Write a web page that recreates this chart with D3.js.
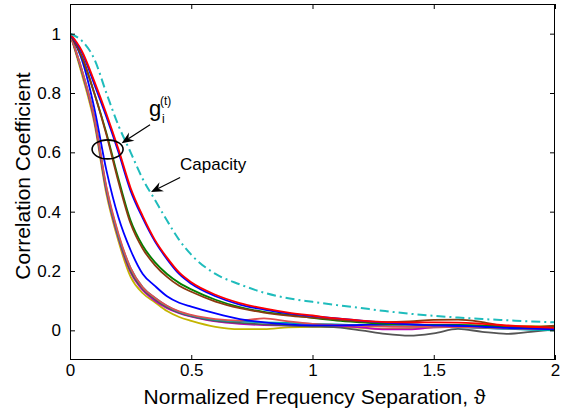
<!DOCTYPE html>
<html>
<head>
<meta charset="utf-8">
<script src="https://cdn.jsdelivr.net/npm/d3@7/dist/d3.min.js"></script>
<style>
  html, body { margin: 0; padding: 0; background: #fff; }
  svg { display: block; }
  text { font-family: "Liberation Sans", Arial, Helvetica, sans-serif; fill: #000; }
</style>
</head>
<body>
<svg id="chart" width="566" height="413"></svg>
<script>
// Normalized frequency separation samples
const theta = [0, 0.05, 0.1, 0.15, 0.2, 0.25, 0.3, 0.35, 0.4, 0.45, 0.5, 0.6, 0.7, 0.8, 0.9, 1.0, 1.1, 1.2, 1.3, 1.4, 1.5, 1.6, 1.7, 1.8, 1.9, 2.0];

// Correlation of the individual g_i^(t) gains
const gRed     = [1, 0.94, 0.84, 0.73, 0.61, 0.48, 0.385, 0.305, 0.245, 0.195, 0.162, 0.12, 0.092, 0.074, 0.06, 0.05, 0.04, 0.033, 0.028, 0.027, 0.027, 0.026, 0.022, 0.017, 0.012, 0.008];
const gBlue1   = [1, 0.935, 0.83, 0.72, 0.60, 0.47, 0.378, 0.30, 0.24, 0.19, 0.157, 0.115, 0.087, 0.07, 0.057, 0.048, 0.04, 0.033, 0.026, 0.02, 0.017, 0.016, 0.012, 0.008, 0.006, 0.004];
const gBrown   = [1, 0.92, 0.80, 0.66, 0.50, 0.36, 0.275, 0.22, 0.18, 0.15, 0.13, 0.097, 0.075, 0.06, 0.05, 0.043, 0.036, 0.03, 0.028, 0.03, 0.035, 0.036, 0.028, 0.014, 0.012, 0.016];
const gGreen   = [1, 0.92, 0.80, 0.665, 0.51, 0.37, 0.285, 0.23, 0.19, 0.16, 0.138, 0.103, 0.078, 0.062, 0.052, 0.042, 0.033, 0.027, 0.022, 0.02, 0.018, 0.018, 0.016, 0.013, 0.01, 0.012];
const gBlue2   = [1, 0.91, 0.75, 0.54, 0.38, 0.27, 0.19, 0.15, 0.115, 0.093, 0.08, 0.057, 0.038, 0.027, 0.02, 0.017, 0.017, 0.018, 0.02, 0.02, 0.017, 0.015, 0.015, 0.012, 0.008, 0.004];
const gPink    = [1, 0.875, 0.72, 0.485, 0.325, 0.21, 0.145, 0.11, 0.083, 0.064, 0.052, 0.038, 0.033, 0.04, 0.03, 0.022, 0.018, 0.015, 0.013, 0.012, 0.012, 0.011, 0.009, 0.007, 0.005, 0.004];
const gTeal    = [1, 0.875, 0.72, 0.48, 0.32, 0.21, 0.145, 0.11, 0.082, 0.062, 0.05, 0.035, 0.03, 0.027, 0.025, 0.022, 0.02, 0.017, 0.015, 0.013, 0.012, 0.01, 0.008, 0.005, 0.002, 0.0];
const gGray    = [1, 0.87, 0.715, 0.475, 0.315, 0.20, 0.14, 0.105, 0.078, 0.06, 0.048, 0.032, 0.025, 0.02, 0.016, 0.013, 0.01, 0.0, -0.012, -0.018, -0.01, 0.005, -0.005, -0.012, -0.005, 0.003];
const gMagenta = [1, 0.87, 0.71, 0.47, 0.31, 0.195, 0.135, 0.10, 0.075, 0.058, 0.046, 0.03, 0.022, 0.018, 0.017, 0.017, 0.015, 0.01, 0.003, 0.003, 0.01, 0.012, 0.008, 0.006, 0.008, 0.01];
const gOlive   = [1, 0.86, 0.70, 0.46, 0.30, 0.18, 0.125, 0.095, 0.065, 0.045, 0.032, 0.012, 0.004, 0.004, 0.01, 0.012, 0.012, 0.008, 0.005, 0.006, 0.01, 0.012, 0.01, 0.012, 0.014, 0.012];

// Correlation of the capacity
const capacity = [1, 0.975, 0.915, 0.80, 0.69, 0.60, 0.51, 0.44, 0.37, 0.305, 0.255, 0.19, 0.155, 0.127, 0.108, 0.096, 0.085, 0.075, 0.065, 0.056, 0.049, 0.043, 0.038, 0.034, 0.03, 0.027];

const xTicks = [0, 0.5, 1, 1.5, 2];
const yTicks = [0, 0.2, 0.4, 0.6, 0.8, 1];

// Curves in drawing order (bottom to top) with their colours
const curves = [
  { values: gOlive,   color: "#c4b400" },
  { values: gMagenta, color: "#c000c0" },
  { values: gGray,    color: "#555555" },
  { values: gTeal,    color: "#00a6a6" },
  { values: gPink,    color: "#e05050" },
  { values: gBlue2,   color: "#0000ff" },
  { values: gGreen,   color: "#008000" },
  { values: gBrown,   color: "#8b3a0f" },
  { values: gBlue1,   color: "#0000ff" },
  { values: gRed,     color: "#ff0000" }
];

const svg = d3.select("#chart");
const mLeft = 70, mRight = 555, mTop = 4, mBottom = 360;

const x = d3.scaleLinear().domain([0, 2]).range([mLeft, mRight]);
const y = d3.scaleLinear().domain([-0.1, 1.1]).range([mBottom, mTop]);

const line = d3.line()
  .x((d, i) => x(theta[i]))
  .y(d => y(d))
  .curve(d3.curveMonotoneX);

svg.append("defs").append("clipPath").attr("id", "clip")
  .append("rect").attr("x", mLeft).attr("y", mTop).attr("width", mRight - mLeft).attr("height", mBottom - mTop);

const lines = svg.append("g").attr("clip-path", "url(#clip)");
curves.forEach(c => {
  lines.append("path")
    .attr("d", line(c.values))
    .attr("fill", "none")
    .attr("stroke", c.color)
    .attr("stroke-width", 1.8)
    .attr("stroke-linejoin", "round")
    .attr("stroke-linecap", "round");
});

lines.append("path")
  .attr("d", line(capacity))
  .attr("fill", "none")
  .attr("stroke", "#1fbcbc")
  .attr("stroke-width", 2)
  .attr("stroke-dasharray", "9,4,2,4");

// Axes: ticks pointing inward on all four sides
const tickLen = 5;
const axB = svg.append("g").attr("transform", `translate(0,${mBottom})`)
  .call(d3.axisBottom(x).tickValues(xTicks).tickSizeInner(-tickLen).tickSizeOuter(0).tickPadding(4).tickFormat(d3.format("")));
const axT = svg.append("g").attr("transform", `translate(0,${mTop})`)
  .call(d3.axisTop(x).tickValues(xTicks).tickSizeInner(-tickLen).tickSizeOuter(0).tickFormat(""));
const axL = svg.append("g").attr("transform", `translate(${mLeft},0)`)
  .call(d3.axisLeft(y).tickValues(yTicks).tickSizeInner(-tickLen).tickSizeOuter(0).tickPadding(9).tickFormat(d3.format("")));
const axR = svg.append("g").attr("transform", `translate(${mRight},0)`)
  .call(d3.axisRight(y).tickValues(yTicks).tickSizeInner(-tickLen).tickSizeOuter(0).tickFormat(""));

[axB, axT, axL, axR].forEach(a => {
  a.select(".domain").remove();
  a.selectAll("line").attr("stroke", "#000").attr("stroke-width", 1);
  a.selectAll("text").attr("font-size", 17).attr("font-family", "Liberation Sans, Arial, sans-serif").attr("fill", "#000");
});

// Frame
svg.append("rect")
  .attr("x", mLeft + 0.5).attr("y", mTop + 0.5)
  .attr("width", mRight - mLeft - 1).attr("height", mBottom - mTop - 1)
  .attr("fill", "none").attr("stroke", "#000").attr("stroke-width", 1);

// Axis titles
svg.append("text")
  .attr("x", (mLeft + mRight) / 2 + 2).attr("y", 404)
  .attr("text-anchor", "middle").attr("font-size", 21)
  .text("Normalized Frequency Separation, \u03D1");

svg.append("text")
  .attr("transform", `translate(30,${(mTop + mBottom) / 2 - 6}) rotate(-90)`)
  .attr("text-anchor", "middle").attr("font-size", 21)
  .text("Correlation Coefficient");

// Annotations
function arrow(x0, y0, x1, y1) {
  const px0 = x(x0), py0 = y(y0), px1 = x(x1), py1 = y(y1);
  const ang = Math.atan2(py1 - py0, px1 - px0);
  const L = 12, W = 5, back = 8;
  const ux = Math.cos(ang), uy = Math.sin(ang);
  const bx = px1 - ux * L, by = py1 - uy * L;
  const mx = px1 - ux * back, my = py1 - uy * back;
  svg.append("line")
    .attr("x1", px0).attr("y1", py0).attr("x2", mx).attr("y2", my)
    .attr("stroke", "#000").attr("stroke-width", 1.2);
  svg.append("path")
    .attr("d", `M${px1},${py1} L${bx - uy * W},${by + ux * W} L${mx},${my} L${bx + uy * W},${by - ux * W} Z`)
    .attr("fill", "#000");
}

svg.append("ellipse")
  .attr("cx", x(0.155)).attr("cy", y(0.61))
  .attr("rx", 15.5).attr("ry", 9.5)
  .attr("fill", "none").attr("stroke", "#000").attr("stroke-width", 1.6);

arrow(0.33, 0.693, 0.213, 0.631);
arrow(0.454, 0.515, 0.334, 0.466);

svg.append("text").attr("x", 149).attr("y", 116).attr("font-size", 22).text("g");
svg.append("text").attr("x", 160).attr("y", 105).attr("font-size", 12).text("(t)");
svg.append("text").attr("x", 162).attr("y", 123).attr("font-size", 12).text("i");

svg.append("text").attr("x", 180).attr("y", 170).attr("font-size", 17).text("Capacity");
</script>
</body>
</html>
